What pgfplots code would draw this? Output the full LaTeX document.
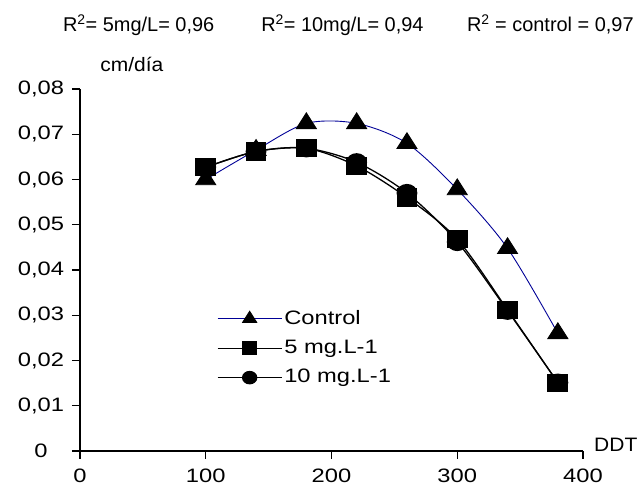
\documentclass[border=0pt]{standalone}
\usepackage{fontspec}
\setmainfont{Liberation Sans}
\usepackage{graphicx}
\usepackage{pgfplots}
\pgfplotsset{compat=1.18}
\definecolor{ctrlblue}{RGB}{0,0,150}
% the reference text is stretched sideways
\newcommand\wt[1]{\scalebox{1.22}[1]{#1}}
\newcommand\wl[1]{\scalebox{1.08}[1]{#1}}

\begin{document}
\fontsize{19.5}{23}\selectfont
\begin{tikzpicture}
  \useasboundingbox (-80bp,-35bp) rectangle (561bp,451bp);
  \begin{axis}[
      at={(0,0)}, anchor=south west,
      scale only axis, width=503bp, height=362bp,
      xmin=0, xmax=400, ymin=0, ymax=0.08,
      axis lines*=left, axis line style={line width=1.4pt},
      tick align=outside, major tick length=8bp,
      tick style={line width=1.1pt, black},
      xtick={0,100,200,300,400},
      xticklabels={\wt{0},\wt{100},\wt{200},\wt{300},\wt{400}},
      ytick={0,0.01,...,0.08}, scaled y ticks=false,
      yticklabels={\wt{0},\wt{0,01},\wt{0,02},\wt{0,03},\wt{0,04},\wt{0,05},\wt{0,06},\wt{0,07},\wt{0,08}},
      ticklabel style={font=\fontsize{19.5}{23}\selectfont},
      yticklabel style={anchor=center, xshift=-31bp},
      xticklabel style={inner sep=0pt, yshift=-10bp},
      legend cell align=left,
      legend style={at={(rel axis cs:0.272,0.2845)}, anchor=west, draw=none, fill=none,
        inner sep=0pt, row sep=9bp, font=\fontsize{19.5}{23}\selectfont},
      legend image code/.code={\draw[mark repeat=2, mark phase=2, #1]
        plot coordinates {(0bp,0bp) (32bp,0bp) (64bp,0bp)};},
      clip=false,
    ]
    % 10 mg drawn first so the squares sit on top
    \addplot[black, line width=1.3pt, smooth, mark=*, mark size=8.5bp, mark options={xscale=1.15}, forget plot]
      coordinates {(100,0.0627) (140,0.0662) (180,0.0669) (220,0.0638) (260,0.0570) (300,0.0462) (340,0.0310) (380,0.0151)};
    \addplot[ctrlblue, line width=0.9pt, smooth, mark=triangle*, mark size=10.5bp, mark options={black, xscale=1.1}, forget plot]
      coordinates {(100,0.0600) (140,0.0665) (180,0.0724) (220,0.0724) (260,0.0680) (300,0.0578) (340,0.0448) (380,0.0260)};
    \addplot[black, line width=1.3pt, smooth, mark=square*, mark size=8.5bp, mark options={xscale=1.15}, forget plot]
      coordinates {(100,0.0627) (140,0.0662) (180,0.0669) (220,0.0630) (260,0.0560) (300,0.0468) (340,0.0312) (380,0.0151)};
    \addlegendimage{ctrlblue, line width=0.9pt, mark=triangle*, mark options={black, scale=0.7, xscale=1.1}, mark size=10.5bp}
    \addlegendentry{\wt{Control}}
    \addlegendimage{black, line width=1.3pt, mark=square*, mark options={scale=0.72, xscale=1.15}, mark size=8.5bp}
    \addlegendentry{\wt{5 mg.L-1}}
    \addlegendimage{black, line width=1.3pt, mark=*, mark options={scale=0.72, xscale=1.15}, mark size=8.5bp}
    \addlegendentry{\wt{10 mg.L-1}}
    \node[anchor=base west, inner sep=0pt] at (rel axis cs:1.0219,0) {\wl{DDT}};
    \node[anchor=base west, inner sep=0pt] at (rel axis cs:0.040,1.0478) {\wl{cm/día}};
    \node[anchor=base west, inner sep=0pt, font=\fontsize{20}{24}\selectfont] at (rel axis cs:-0.034,1.1583) {R\textsuperscript{2}= 5mg/L= 0,96};
    \node[anchor=base west, inner sep=0pt, font=\fontsize{20}{24}\selectfont] at (rel axis cs:0.360,1.1583) {R\textsuperscript{2}= 10mg/L= 0,94};
    \node[anchor=base west, inner sep=0pt, font=\fontsize{20}{24}\selectfont] at (rel axis cs:0.769,1.1583) {R\textsuperscript{2} = control = 0,97};
  \end{axis}
\end{tikzpicture}
\end{document}
